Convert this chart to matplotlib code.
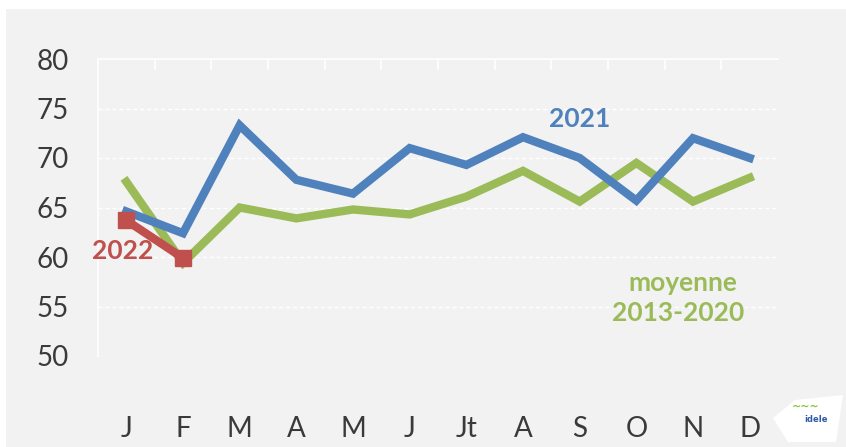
import matplotlib.pyplot as plt
from matplotlib.patches import Rectangle, Polygon

months = ['J', 'F', 'M', 'A', 'M', 'J', 'Jt', 'A', 'S', 'O', 'N', 'D']
prix_2021 = [64.6, 62.4, 73.3, 67.8, 66.4, 71.0, 69.3, 72.1, 70.0, 65.7, 72.0, 70.0]
moyenne = [67.6, 59.4, 65.0, 63.9, 64.8, 64.3, 66.1, 68.7, 65.6, 69.5, 65.6, 68.0]
prix_2022 = [63.7, 59.9]

BLUE = '#4f81bd'
GREEN = '#9bbb59'
RED = '#c0504d'
BG = '#f2f2f2'

W, H = 846, 447
fig = plt.figure(figsize=(W / 100, H / 100), dpi=100, facecolor='white')
fig.patches.append(Rectangle((6 / W, 0), 1, 1 - 9 / H, transform=fig.transFigure,
                             facecolor=BG, edgecolor='none', zorder=-5))

ax = fig.add_axes([98 / W, 1 - 356 / H, 680 / W, 297 / H])
ax.set_facecolor('none')
ax.set_zorder(2)

x = range(len(months))
ax.plot(x, moyenne, color=GREEN, lw=6, solid_joinstyle='miter', zorder=3)
ax.plot(x, prix_2021, color=BLUE, lw=6, solid_joinstyle='miter', zorder=4)
ax.plot(range(len(prix_2022)), prix_2022, color=RED, lw=6, marker='s',
        markersize=11, zorder=5)

ax.set_xlim(-0.5, 11.5)
ax.set_ylim(50, 80)
ax.set_yticks(range(50, 81, 5))
ax.set_xticks(list(x))
ax.set_xticklabels(months)
ax.set_xticks([i + 0.5 for i in range(11)], minor=True)

for y in range(50, 80, 5):
    ax.axhline(y, color='white', lw=1, ls=(0, (3, 2)), zorder=1)

for side in ['bottom', 'right']:
    ax.spines[side].set_visible(False)
for side in ['left', 'top']:
    ax.spines[side].set_color('white')
    ax.spines[side].set_linewidth(1.2)

ax.tick_params(axis='y', length=0, pad=21, labelsize=20, labelcolor='#3a3a3a')
ax.tick_params(axis='x', which='major', length=0, pad=43, labelsize=20,
               labelcolor='#3a3a3a')
ax.tick_params(axis='x', which='minor', bottom=False, top=True, direction='in',
               length=8, width=1.2, color='white')
for lab in ax.get_xticklabels() + ax.get_yticklabels():
    lab.set_fontfamily('Lato')
    lab.set_fontweight('normal')

label_kw = dict(fontsize=19, fontweight='bold', family='Lato', ha='center', va='center')
ax.text(8.0, 73.9, '2021', color=BLUE, **label_kw)
ax.text(-0.06, 60.6, '2022', color=RED, **label_kw)
ax.text(9.82, 57.4, 'moyenne', color=GREEN, **label_kw)
ax.text(9.73, 54.3, '2013-2020', color=GREEN, **label_kw)

# logo badge, bottom right
badge = Polygon([(773 / W, 1 - 418 / H), (795 / W, 1 - 400 / H), (843 / W, 1 - 395 / H),
                 (836 / W, 1 - 442 / H), (788 / W, 1 - 442 / H)],
                closed=True, transform=fig.transFigure, facecolor='white',
                edgecolor='none', zorder=2)
fig.patches.append(badge)
fig.text(816 / W, 1 - 419 / H, 'idele', color='#2e5aa8', fontsize=6,
         fontweight='bold', ha='center', va='center')
fig.text(806 / W, 1 - 407 / H, '~~~', color='#8cc63f', fontsize=8,
         fontweight='bold', ha='center', va='center')

fig.savefig('out.png', dpi=100, facecolor='white')
